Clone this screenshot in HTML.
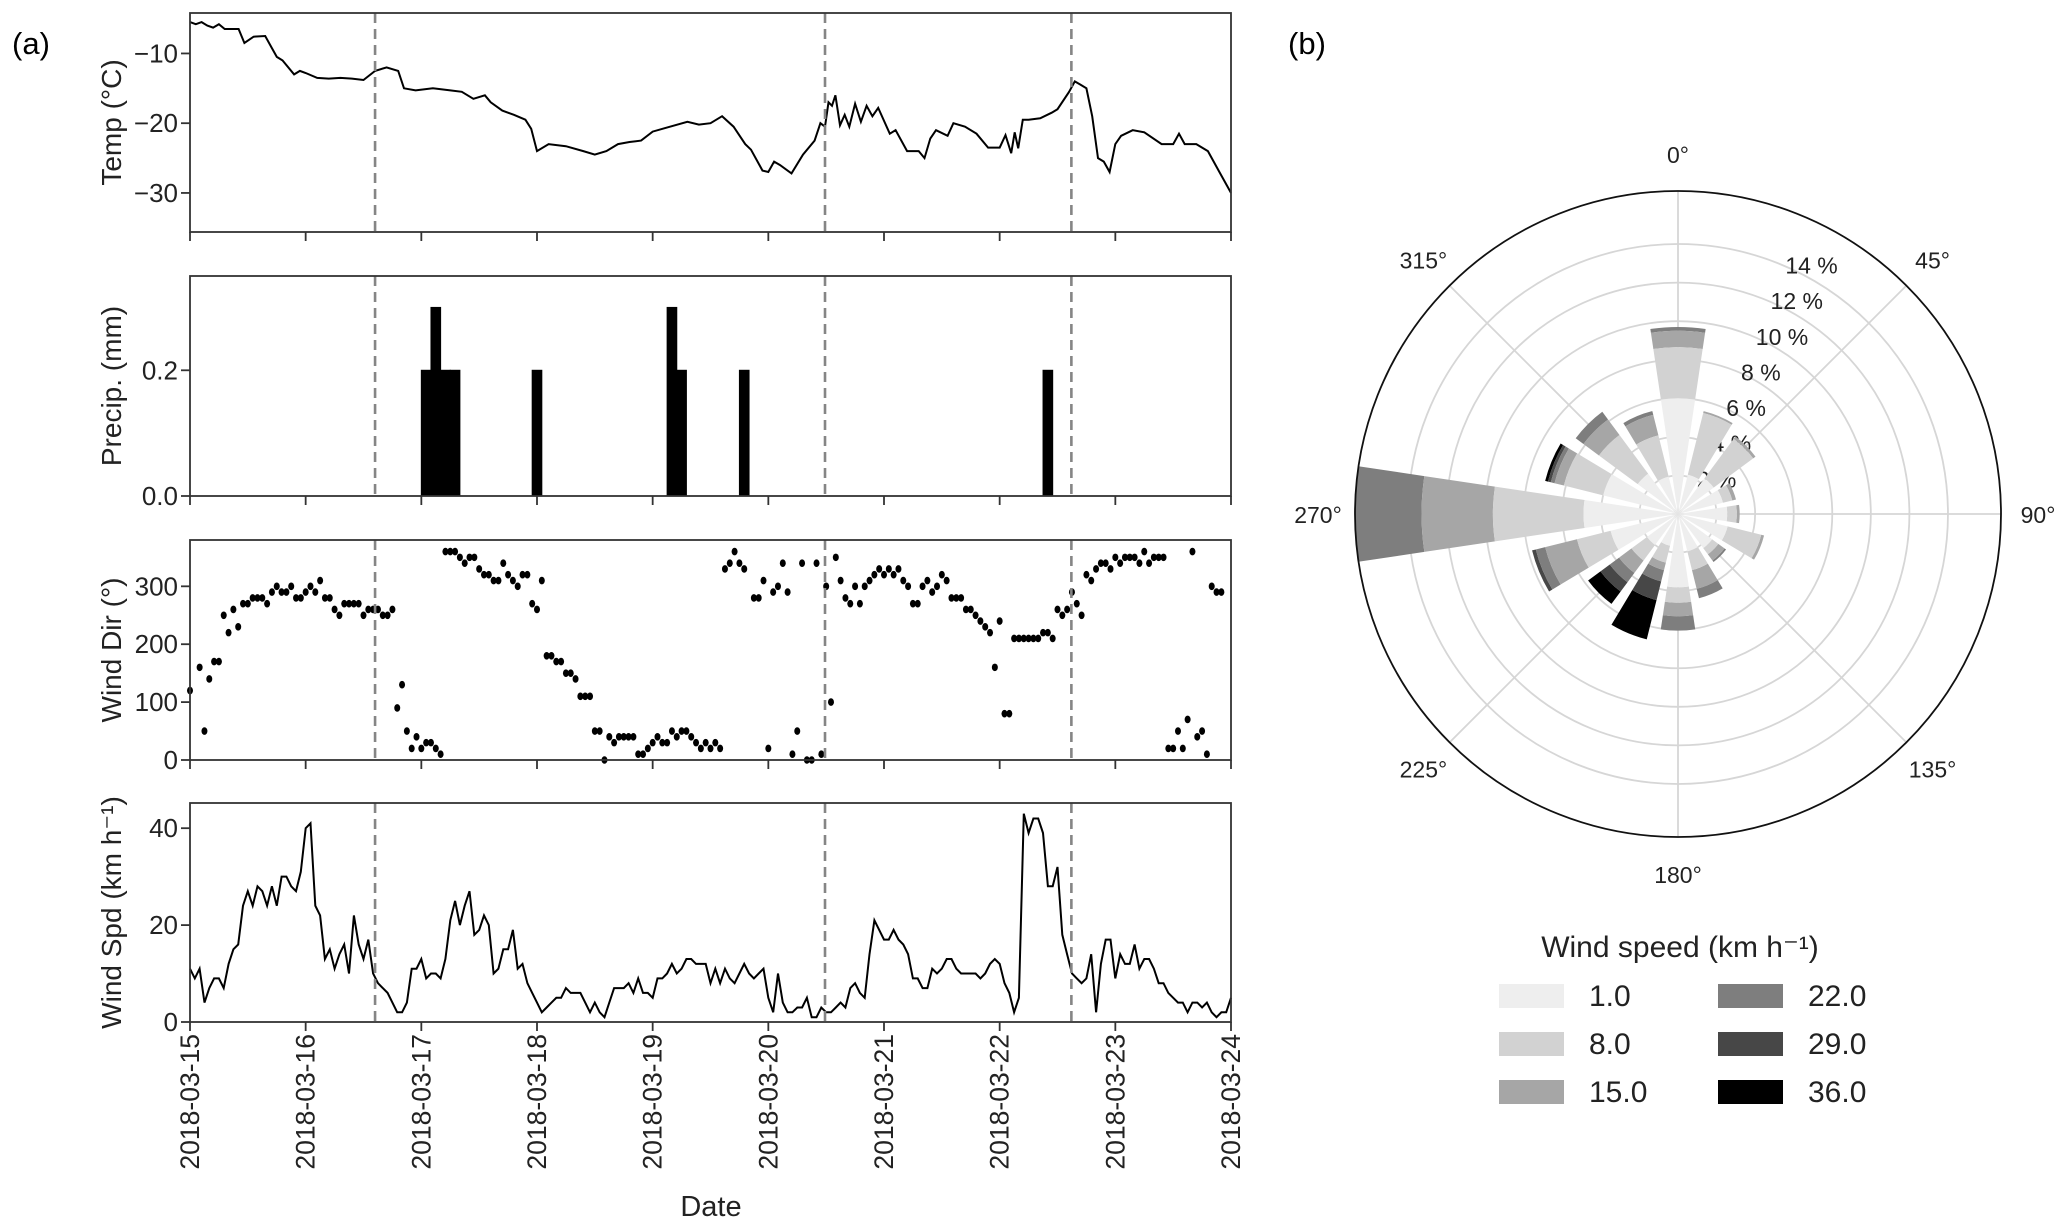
<!DOCTYPE html>
<html><head><meta charset="utf-8"><style>
html,body{margin:0;padding:0;background:#fff;}
svg{display:block;font-family:"Liberation Sans",Arial,sans-serif;}
</style></head><body>
<svg id="fig" width="2067" height="1224" viewBox="0 0 2067 1224" xmlns="http://www.w3.org/2000/svg">
<text x="12" y="54" font-size="31">(a)</text>
<text x="1288" y="54" font-size="31">(b)</text>
<g id="ts"></g>
<g id="rose"></g>
</svg>
<script>
// ---------- DATA ----------
const dateLabels = ["2018-03-15","2018-03-16","2018-03-17","2018-03-18","2018-03-19","2018-03-20","2018-03-21","2018-03-22","2018-03-23","2018-03-24"];
const eventDays = [1.6, 5.49, 7.62];
const tempDays = [0,0.05,0.1,0.15,0.2,0.25,0.3,0.35,0.42,0.47,0.55,0.65,0.7,0.75,0.8,0.9,0.95,1.0,1.1,1.2,1.3,1.4,1.5,1.6,1.7,1.8,1.85,1.95,2.1,2.25,2.35,2.45,2.55,2.6,2.7,2.8,2.9,2.95,3.0,3.1,3.25,3.4,3.5,3.6,3.7,3.8,3.9,4.0,4.15,4.3,4.4,4.5,4.6,4.7,4.8,4.85,4.95,5.0,5.05,5.1,5.2,5.3,5.4,5.45,5.49,5.52,5.55,5.58,5.62,5.66,5.7,5.75,5.8,5.85,5.9,5.95,6.05,6.1,6.2,6.3,6.35,6.4,6.45,6.55,6.6,6.7,6.8,6.9,7.0,7.05,7.1,7.13,7.16,7.2,7.25,7.35,7.45,7.5,7.6,7.65,7.7,7.75,7.8,7.85,7.9,7.95,8.0,8.05,8.15,8.25,8.4,8.5,8.55,8.6,8.7,8.8,8.9,9.0];
const tempVals = [-5.5,-5.8,-5.5,-6,-6.3,-5.8,-6.5,-6.5,-6.5,-8.5,-7.6,-7.5,-9,-10.5,-11,-13,-12.5,-12.8,-13.5,-13.6,-13.5,-13.6,-13.8,-12.5,-12,-12.5,-15,-15.3,-15,-15.3,-15.5,-16.5,-16,-17,-18.2,-18.8,-19.5,-20.8,-24,-23,-23.3,-24,-24.5,-24,-23,-22.7,-22.5,-21.2,-20.5,-19.8,-20.2,-20,-19,-20.5,-23,-23.8,-26.8,-27,-25.5,-26,-27.2,-24.5,-22.5,-20,-20.5,-17,-17.5,-16,-20.3,-18.8,-20.5,-17.2,-19.8,-17.5,-19,-17.8,-21.5,-21,-24,-24,-25,-22.2,-21,-21.8,-20,-20.5,-21.5,-23.5,-23.5,-21.7,-24.3,-21.3,-23.6,-19.5,-19.5,-19.3,-18.5,-18,-15.5,-14,-14.5,-15,-19,-25,-25.5,-27,-23,-21.8,-21,-21.3,-23,-23,-21.5,-23,-23,-24,-27,-30];
const precipHours = [48,50,52,54,71,99,101,114,177];
const precipVals = [0.2,0.3,0.2,0.2,0.2,0.3,0.2,0.2,0.2];
const dirHours = [0,2,3,4,5,6,7,8,9,10,11,12,13,14,15,16,17,18,19,20,21,22,23,24,25,26,27,28,29,30,31,32,33,34,35,36,37,38,39,40,41,42,43,44,45,46,47,48,49,50,51,52,53,54,55,56,57,58,59,60,61,62,63,64,65,66,67,68,69,70,71,72,73,74,75,76,77,78,79,80,81,82,83,84,85,86,87,88,89,90,91,92,93,94,95,96,97,98,99,100,101,102,103,104,105,106,107,108,109,110,111,112,113,114,115,117,118,119,120,121,122,123,124,125,126,127,128,129,130,131,132,133,134,135,136,137,138,139,140,141,142,143,144,145,146,147,148,149,150,151,152,153,154,155,156,157,158,159,160,161,162,163,164,165,166,167,168,169,170,171,172,173,174,175,176,177,178,179,180,181,182,183,184,185,186,187,188,189,190,191,192,193,194,195,196,197,198,199,200,201,202,203,204,205,206,207,208,209,210,211,212,213,214];
const dirVals = [120,160,50,140,170,170,250,220,260,230,270,270,280,280,280,270,290,300,290,290,300,280,280,290,300,290,310,280,280,260,250,270,270,270,270,250,260,260,260,250,250,260,90,130,50,20,40,20,30,30,20,10,360,360,360,350,340,350,350,330,320,320,310,310,340,320,310,300,320,320,270,260,310,180,180,170,170,150,150,140,110,110,110,50,50,0,40,30,40,40,40,40,10,10,20,30,40,30,30,50,40,50,50,40,30,20,30,20,30,20,330,340,360,340,330,280,280,310,20,290,300,340,290,10,50,340,0,0,340,10,300,100,350,310,280,270,300,270,300,310,320,330,320,330,320,330,310,300,270,270,300,310,290,300,320,310,280,280,280,260,260,250,240,230,220,160,240,80,80,210,210,210,210,210,210,220,220,210,260,250,260,290,270,250,320,310,330,340,340,330,350,340,350,350,350,340,360,340,350,350,350,20,20,50,20,70,360,40,50,10,300,290,290];
const spdVals = [11,9,11,4,7,9,9,7,12,15,16,24,27,24,28,27,24,28,24,30,30,28,27,31,40,41,24,22,13,15,11,14,16,10,22,16,13,17,10,8,7,6,4,2,2,4,11,11,13,9,10,10,9,13,21,25,20,24,27,18,19,22,20,10,11,15,15,19,11,12,8,6,4,2,3,4,5,5,7,6,6,6,4,2,4,2,1,4,7,7,7,8,6,9,6,6,5,9,9,10,12,10,11,13,13,12,12,12,8,11,8,11,9,8,10,12,10,9,10,11,5,2,10,4,2,2,3,3,5,1,1,3,2,2,3,4,3,7,8,6,5,14,21,19,17,17,19,17,16,14,9,9,7,7,11,10,11,13,13,11,10,10,10,10,9,10,12,13,12,8,6,2,5,43,39,42,42,39,28,28,32,18,14,10,9,8,9,14,2,12,17,17,9,14,12,12,16,11,13,13,11,8,8,6,5,4,4,2,4,4,3,4,2,1,2,2,5];
// wind rose
const roseDirs = [0,22.5,45,67.5,90,112.5,135,157.5,180,202.5,225,247.5,270,292.5,315,337.5];
const speedBins = ["1.0","8.0","15.0","22.0","29.0","36.0"];
const binColors = ["#eeeeee","#d2d2d2","#a6a6a6","#7e7e7e","#474747","#000000"];
// cumulative frequency (%) per direction per speed bin
const roseCum = [
 [6.0,8.65,9.5,9.7,9.7,9.7],
 [2.1,5.4,5.5,5.5,5.5,5.5],
 [2.3,4.85,5.0,5.0,5.0,5.0],
 [2.4,2.9,3.1,3.1,3.1,3.1],
 [2.55,3.05,3.2,3.2,3.2,3.2],
 [2.65,4.45,4.6,4.6,4.6,4.6],
 [2.2,2.6,3.0,3.1,3.1,3.1],
 [2.0,3.0,4.0,4.5,4.5,4.5],
 [3.8,4.6,5.3,6.05,6.05,6.05],
 [1.7,2.6,3.0,3.6,4.6,6.7],
 [2.0,3.0,3.8,4.4,5.0,5.8],
 [3.6,5.4,7.1,7.6,7.8,7.8],
 [4.9,9.6,13.3,17.5,17.5,17.5],
 [4.0,6.1,6.6,6.8,6.95,7.1],
 [2.6,5.1,6.1,6.6,6.6,6.6],
 [2.0,4.2,5.3,5.5,5.5,5.5]
];
const rTicks = [2,4,6,8,10,12,14];
const angleTicks = [0,45,90,135,180,225,270,315];

// ---------- helpers ----------
const NS="http://www.w3.org/2000/svg";
function mk(tag,attrs,parent,text){const e=document.createElementNS(NS,tag);for(const k in attrs)e.setAttribute(k,attrs[k]);if(text!==undefined)e.textContent=text;parent.appendChild(e);return e;}
const ts=document.getElementById('ts');
const X0=190,X1=1231;
const xs=d=>X0+(X1-X0)*d/9;
const panels=[
 {name:"temp",top:13,bot:232,min:-35.6,max:-4.2,ticks:[-30,-20,-10],label:"Temp (°C)"},
 {name:"precip",top:276,bot:496,min:0,max:0.35,ticks:[0,0.2],fmt:v=>v.toFixed(1),label:"Precip. (mm)"},
 {name:"wind-dir",top:540,bot:760,min:0,max:380,ticks:[0,100,200,300],label:"Wind Dir (°)"},
 {name:"wind-spd",top:803,bot:1022,min:0,max:45.2,ticks:[0,20,40],label:"Wind Spd (km h⁻¹)"}
];
panels.forEach((p,pi)=>{
 const ys=v=>p.bot-(p.bot-p.top)*(v-p.min)/(p.max-p.min);
 const g=mk('g',{},ts);
 
 
 if(p.name==="temp"){
  const pts=tempDays.map((d,i)=>xs(d).toFixed(1)+","+ys(tempVals[i]).toFixed(1)).join(" ");
  const l=mk('polyline',{points:pts,fill:"none",stroke:"#000","stroke-width":2},g);
  
  
 }
 if(p.name==="precip"){
  precipHours.forEach((h,i)=>{
   const r=mk('rect',{x:xs(h/24),y:ys(precipVals[i]),width:xs((h+2)/24)-xs(h/24),height:ys(0)-ys(precipVals[i]),fill:"#000",stroke:"#000","stroke-width":1},g);
   
   
  });
 }
 if(p.name==="wind-dir"){
  dirHours.forEach((h,i)=>{
   const c=mk('ellipse',{cx:xs(h/24),cy:ys(dirVals[i]),rx:3,ry:3.8,fill:"#000"},g);
   
   
  });
 }
 if(p.name==="wind-spd"){
  const n=spdVals.length;
  const pts=spdVals.map((v,i)=>xs(9*i/(n-1)).toFixed(1)+","+ys(v).toFixed(1)).join(" ");
  const l=mk('polyline',{points:pts,fill:"none",stroke:"#000","stroke-width":2},g);
  
  
 }
 eventDays.forEach(d=>{
  const l=mk('line',{x1:xs(d),x2:xs(d),y1:p.top,y2:p.bot,stroke:"#858585","stroke-width":2.6,"stroke-dasharray":"10,6"},g);
  
  
 });
 const fr=mk('rect',{x:X0,y:p.top,width:X1-X0,height:p.bot-p.top,fill:"none",stroke:"#333","stroke-width":1.8},g);
 
 
 p.ticks.forEach(v=>{
  mk('line',{x1:X0-9,x2:X0,y1:ys(v),y2:ys(v),stroke:"#333","stroke-width":1.8},g);
  const t=mk('text',{x:X0-12,y:ys(v)+9,"font-size":26,"text-anchor":"end",fill:"#222"},g,p.fmt?p.fmt(v):String(v).replace('-','−'));
  
  
 });
 dateLabels.forEach((d,i)=>mk('line',{x1:xs(i),x2:xs(i),y1:p.bot,y2:p.bot+9,stroke:"#333","stroke-width":1.8},g));
 const cy=(p.top+p.bot)/2;
 const yl=mk('text',{x:121,y:cy,"font-size":28,"text-anchor":"middle",fill:"#222",transform:`rotate(-90 121 ${cy})`},g,p.label);
 
 
});
dateLabels.forEach((d,i)=>{
 const x=xs(i)+9,y=1034;
 const t=mk('text',{x:x,y:y,"font-size":26.5,"text-anchor":"end",fill:"#222",transform:`rotate(-90 ${x} ${y})`},ts,d);
 
 
});
const xt=mk('text',{x:711,y:1216,"font-size":29,"text-anchor":"middle",fill:"#222"},ts,"Date");



// ---------- wind rose ----------
const rg=document.getElementById('rose');
const CX=1678,CY=514,R=323,RMAX=16.75;
const rs=v=>R*v/RMAX;
const pol=(deg,r)=>[CX+r*Math.sin(deg*Math.PI/180),CY-r*Math.cos(deg*Math.PI/180)];
const defs=mk('defs',{},rg);
const cp=mk('clipPath',{id:'rc'},defs);
mk('circle',{cx:CX,cy:CY,r:R},cp);
rTicks.forEach(v=>{const c=mk('circle',{cx:CX,cy:CY,r:rs(v),fill:"none",stroke:"#d6d6d6","stroke-width":1.8},rg);
 });
angleTicks.forEach(a=>{const [x,y]=pol(a,R);mk('line',{x1:CX,y1:CY,x2:x,y2:y,stroke:"#d6d6d6","stroke-width":1.8},rg);});
rTicks.forEach(v=>{const [x,y]=pol(22.5,rs(v));const t=mk('text',{x:x+4,y:y+9,"font-size":23,fill:"#222"},rg,v+" %");
 });
const bars=mk('g',{"clip-path":"url(#rc)"},rg);
const half=8.5;
function wedge(a,r0,r1){const p1=pol(a-half,r0),p2=pol(a+half,r0),p3=pol(a+half,r1),p4=pol(a-half,r1);
 return `M${p1} A${r0},${r0} 0 0 1 ${p2} L${p3} A${r1},${r1} 0 0 0 ${p4} Z`;}
roseDirs.forEach((a,i)=>{
 for(let b=speedBins.length-1;b>=0;b--){
  const r0=b===0?0:rs(roseCum[i][b-1]),r1=rs(roseCum[i][b]);
  if(r1-r0<0.3)continue;
  const w=mk('path',{d:wedge(a,r0,r1),fill:binColors[b]},bars);
  
  
 }
});
const oc=mk('circle',{cx:CX,cy:CY,r:R,fill:"none",stroke:"#111","stroke-width":1.8},rg);

angleTicks.forEach(a=>{const [x,y]=pol(a,360);const t=mk('text',{x:x,y:y+9,"font-size":23,"text-anchor":"middle",fill:"#222"},rg,a+"°");
 });
const lg=mk('g',{},rg);


const lt=mk('text',{x:1680,y:957,"font-size":30,"text-anchor":"middle",fill:"#222"},lg,"Wind speed (km h⁻¹)");

speedBins.forEach((s,i)=>{
 const col=Math.floor(i/3),row=i%3;
 const x=col?1718:1499,y=984+row*48;
 const e=mk('g',{},lg);
 
 
 mk('rect',{x:x,y:y,width:65,height:24,fill:binColors[i]},e);
 mk('text',{x:x+90,y:y+22,"font-size":30,fill:"#222"},e,s);
});
</script>
</body></html>
